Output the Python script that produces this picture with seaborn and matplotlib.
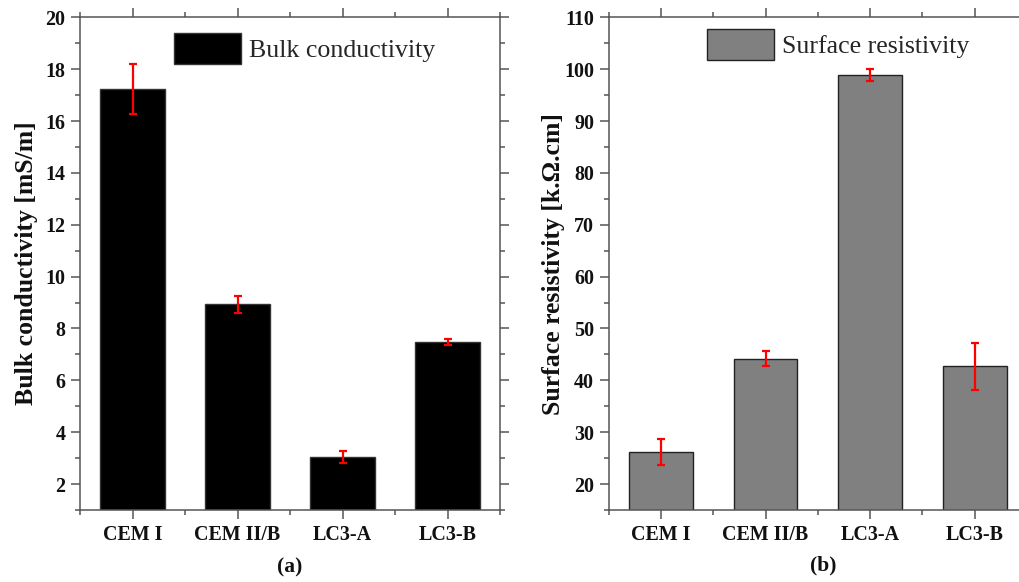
import matplotlib
matplotlib.use("Agg")
import matplotlib.pyplot as plt
from matplotlib.ticker import MultipleLocator, FixedLocator
import seaborn as sns

categories = ["CEM I", "CEM II/B", "LC3-A", "LC3-B"]
bulk_values = [17.22, 8.94, 3.05, 7.49]
bulk_errors = [0.96, 0.33, 0.22, 0.12]
surf_values = [26.2, 44.2, 98.9, 42.7]
surf_errors = [2.45, 1.45, 1.1, 4.5]

sns.set_style("ticks")
plt.rcParams["font.family"] = ["Liberation Serif", "DejaVu Serif"]

fig = plt.figure(figsize=(10.19, 5.82), dpi=100)
ax1 = fig.add_axes([80/1019, 72/582, 420/1019, 492.7/582])
ax2 = fig.add_axes([608.7/1019, 72/582, 418.3/1019, 492.7/582])

spine_col = "#555555"

def style(ax, values, errors, face, edge, label, ylabel, ylim, major, minor, legx, legy, labx):
    sns.barplot(x=categories, y=values, color=face, edgecolor=edge, linewidth=1.0,
                width=0.61, saturation=1, errorbar=None, label=label, ax=ax)
    ax.errorbar(x=list(range(len(categories))), y=values, yerr=errors, fmt="none",
                ecolor="red", elinewidth=1.6, capsize=3, capthick=1.6, zorder=5)
    ax.set_xlim(-0.5, len(categories) - 0.5)
    ax.set_ylim(*ylim)
    ax.yaxis.set_major_locator(MultipleLocator(major))
    ax.yaxis.set_minor_locator(MultipleLocator(minor))
    ax.xaxis.set_minor_locator(FixedLocator([-0.5, 0.5, 1.5, 2.5, 3.5]))
    for s in ax.spines.values():
        s.set_visible(True)
        s.set_color(spine_col)
        s.set_linewidth(1.1)
    ax.tick_params(which="both", direction="out", top=True, right=True,
                   labeltop=False, labelright=False, color=spine_col, width=1.1)
    ax.tick_params(which="major", length=6.5, pad=4)
    ax.tick_params(which="minor", length=3.5)
    for lab in ax.get_xticklabels() + ax.get_yticklabels():
        lab.set_fontweight("bold")
        lab.set_fontsize(14.4)
        lab.set_color("#111111")
    ax.set_xlabel("")
    ax.set_ylabel(ylabel, fontsize=18.5, fontweight="bold", color="#111111")
    ax.yaxis.set_label_coords(labx, 0.5)
    leg = ax.legend(loc="upper left", bbox_to_anchor=(legx, legy), frameon=False,
                    fontsize=18.6, handlelength=2.6, handleheight=1.45,
                    borderpad=0, borderaxespad=0, handletextpad=0.3)
    for p in leg.get_patches():
        p.set_edgecolor(edge)

style(ax1, bulk_values, bulk_errors, "black", "#333333", "Bulk conductivity",
      "Bulk conductivity [mS/m]", (1, 20), 2, 1, 0.224, 0.968, -0.10)
style(ax2, surf_values, surf_errors, "#808080", "#222222", "Surface resistivity",
      "Surface resistivity [k.Ω.cm]", (15, 110), 10, 5, 0.235, 0.976, -0.104)

fig.text(290/1019, 1 - 567/582, "(a)", ha="center", va="center",
         fontsize=15.5, fontweight="bold", color="#111111")
fig.text(823/1019, 1 - 565/582, "(b)", ha="center", va="center",
         fontsize=15.5, fontweight="bold", color="#111111")

fig.savefig("out.png", dpi=100)
